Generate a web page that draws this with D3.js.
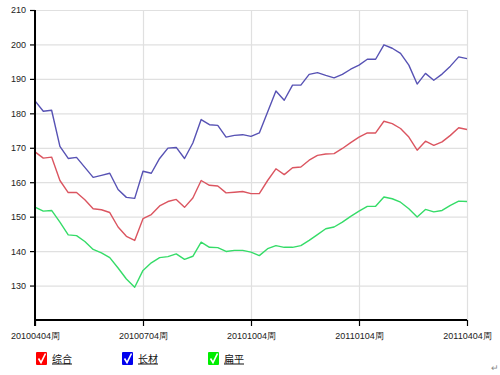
<!DOCTYPE html>
<html lang="zh">
<head>
<meta charset="UTF-8" />
<title>综合 / 长材 / 扁平</title>
<script src="https://cdn.jsdelivr.net/npm/d3@7"></script>
<style>
  body { margin: 0; background: #fff; }
  svg { display: block; font-family: "Liberation Sans", Arial, sans-serif; }
  .grid line { stroke: #e0e0e0; stroke-width: 1.2; }
  .grid path { display: none; }
  .axis path, .axis line { stroke: #000; }
  .axis text { font-size: 9px; fill: #222; }
  .legend text { font-family: "Noto Sans CJK SC", sans-serif; font-size: 10px; text-decoration: underline; fill: #111; }
</style>
</head>
<body>
<svg id="chart" width="500" height="375"></svg>
<script>
// weekly index, 20100404周 .. 20110404周 (53 weeks)
const tickLabels = ["20100404周", "20100704周", "20101004周", "20110104周", "20110404周"];
const tickWeeks = [0, 13, 26, 39, 52];
const seriesNames = ["综合", "长材", "扁平"];
const seriesColors = ["#db5560", "#5752b4", "#35dc68"];
const legendColors = ["#ff0000", "#0000ee", "#00ee00"];

const zonghe = [168.8, 167.0, 167.3, 160.5, 157.0, 157.0, 154.9, 152.3, 152.0, 151.2,
  147.0, 144.3, 143.1, 149.4, 150.6, 153.1, 154.4, 155.0, 152.7, 155.4,
  160.5, 159.1, 158.9, 156.9, 157.1, 157.3, 156.7, 156.7, 160.5, 163.9,
  162.2, 164.2, 164.4, 166.4, 167.8, 168.2, 168.3, 169.8, 171.5, 173.1,
  174.3, 174.3, 177.7, 177.0, 175.6, 173.1, 169.3, 171.9, 170.7, 171.7,
  173.6, 175.8, 175.3];
const changcai = [183.6, 180.6, 180.9, 170.4, 166.9, 167.2, 164.3, 161.4, 162.0, 162.6,
  157.9, 155.6, 155.3, 163.2, 162.6, 166.9, 169.9, 170.1, 166.9, 171.4,
  178.2, 176.7, 176.5, 173.1, 173.6, 173.8, 173.3, 174.3, 180.4, 186.5,
  183.8, 188.2, 188.2, 191.3, 191.8, 191.0, 190.3, 191.3, 192.8, 194.0,
  195.7, 195.7, 199.9, 198.9, 197.4, 194.0, 188.5, 191.6, 189.6, 191.4,
  193.7, 196.4, 195.9];
const bianping = [152.8, 151.6, 151.8, 148.4, 144.7, 144.5, 142.8, 140.5, 139.5, 138.1,
  135.1, 131.9, 129.5, 134.4, 136.6, 138.1, 138.4, 139.2, 137.6, 138.5,
  142.6, 141.1, 141.0, 139.9, 140.2, 140.2, 139.7, 138.7, 140.7, 141.6,
  141.1, 141.1, 141.6, 143.1, 144.8, 146.5, 147.0, 148.4, 150.1, 151.6,
  153.0, 153.0, 155.7, 155.2, 154.2, 152.3, 149.9, 152.1, 151.4, 151.8,
  153.3, 154.5, 154.4];

const series = [zonghe, changcai, bianping];

const margin = { left: 35, right: 33, top: 10, bottom: 55 };
const width = 500, height = 375;
const svg = d3.select("#chart");

const x = d3.scaleLinear().domain([0, 52]).range([margin.left, width - margin.right]);
const y = d3.scaleLinear().domain([120, 210]).range([height - margin.bottom, margin.top]);
const yTicks = d3.range(130, 211, 10);

// grid
svg.append("g").attr("class", "grid")
  .attr("transform", `translate(${margin.left},0)`)
  .call(d3.axisLeft(y).tickValues(yTicks).tickSize(-(width - margin.left - margin.right)).tickFormat(""));
svg.append("g").attr("class", "grid")
  .attr("transform", `translate(0,${height - margin.bottom})`)
  .call(d3.axisBottom(x).tickValues(tickWeeks).tickSize(-(height - margin.top - margin.bottom)).tickFormat(""));

// lines
const line = d3.line().x((d, i) => x(i)).y(d => y(d));
svg.selectAll(".series")
  .data(series)
  .enter().append("path")
  .attr("class", "series")
  .attr("fill", "none")
  .attr("stroke", (d, i) => seriesColors[i])
  .attr("stroke-width", 1.4)
  .attr("stroke-linejoin", "round")
  .attr("d", line);

// axes
const yAxis = svg.append("g").attr("class", "axis")
  .attr("transform", `translate(${margin.left},0)`)
  .call(d3.axisLeft(y).tickValues(yTicks).tickSize(5).tickPadding(4));
yAxis.select(".domain").attr("d", `M0,${margin.top}V${height - margin.bottom + 6}`).attr("stroke-width", 2);
yAxis.selectAll("line").attr("stroke-width", 1.2);

const xAxis = svg.append("g").attr("class", "axis")
  .attr("transform", `translate(0,${height - margin.bottom})`)
  .call(d3.axisBottom(x).tickValues(tickWeeks).tickSize(6).tickPadding(7)
    .tickFormat((d, i) => tickLabels[i]));
xAxis.select(".domain").attr("d", `M${margin.left},0H${width - margin.right}`).attr("stroke-width", 2);
xAxis.selectAll("line").attr("stroke-width", 1.2);

// legend
const legend = svg.append("g").attr("class", "legend")
  .attr("transform", "translate(36,352)");
const item = legend.selectAll("g")
  .data(seriesNames)
  .enter().append("g")
  .attr("transform", (d, i) => `translate(${i * 86},0)`);
item.append("rect")
  .attr("width", 11).attr("height", 13).attr("rx", 1)
  .attr("fill", (d, i) => legendColors[i]);
item.append("path")
  .attr("d", "M2.5,6.5 L5,10.5 L9.5,1.5")
  .attr("fill", "none").attr("stroke", "#fff").attr("stroke-width", 1.6);
item.append("text")
  .attr("x", 16).attr("y", 10.5)
  .text(d => d);

svg.append("text")
  .attr("x", 491).attr("y", 371)
  .attr("font-size", 9).attr("fill", "#888")
  .text("↵");
</script>
</body>
</html>
